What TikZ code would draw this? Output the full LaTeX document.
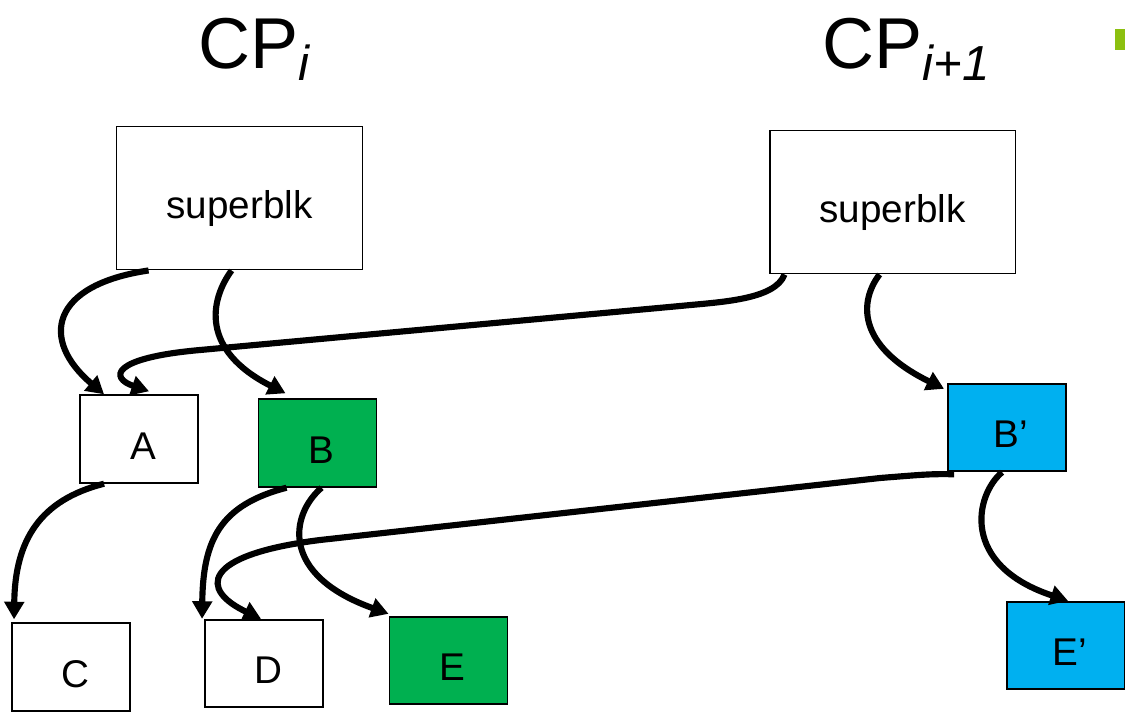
\documentclass[tikz,border=0pt]{standalone}
\usepackage{fontspec}
\setmainfont{Liberation Sans}
\usetikzlibrary{arrows.meta,calc}
\definecolor{boxgreen}{RGB}{0,176,80}
\definecolor{boxblue}{RGB}{0,176,240}
\definecolor{limegreen}{RGB}{140,192,16}
\begin{document}
\begin{tikzpicture}[x=0.02cm,y=-0.02cm,
  boxbase/.style={draw=black,line width=1.1pt,inner sep=0pt,text height=23pt,text depth=0pt,font=\fontsize{22}{26}\selectfont},
  blk/.style={boxbase,minimum width=2.36cm,minimum height=1.75cm,execute at begin node=\hspace*{0.16cm}},
  sblk/.style={boxbase,minimum width=4.92cm,minimum height=2.86cm},
  arr/.style={line width=3.5pt,-{Triangle[length=10pt,width=11pt]}},
  ttl/.style={anchor=base west,inner sep=0pt,font=\fontsize{41}{46}\selectfont}]
\useasboundingbox (0,0) rectangle (1125,711);
\fill[white] (0,0) rectangle (1125,711);
\fill[limegreen] (1115,29) rectangle (1125,50);
\node[ttl] (t1) at (198,68) {CP\raisebox{-0.32ex}{\fontsize{28}{30}\selectfont\itshape i}};
\node[ttl] (t2) at (822,68) {CP\raisebox{-0.32ex}{\fontsize{28}{30}\selectfont\itshape i+1}};
\node[sblk] (sbL) at (239.5,198) {superblk};
\node[sblk] (sbR) at (892.5,202) {superblk};
\node[blk] (A) at (139,439) {A};
\node[blk,fill=boxgreen] (B) at (317.5,443) {B};
\node[blk,fill=boxblue] (Bp) at (1007,427.5) {B’};
\node[blk] (C) at (71,667) {C};
\node[blk] (D) at (264,663.5) {D};
\node[blk,fill=boxgreen] (E) at (448.5,660.5) {E};
\node[blk,fill=boxblue] (Ep) at (1066,645.5) {E’};
% arrows
\draw[arr] ($(sbL.south west)+(33,0)$) .. controls (50,285) and (40,340) .. ($(A.north west)+(25,0)$);
\draw[arr] ($(sbL.south west)+(116,0)$) .. controls (210,300) and (200,350) .. ($(B.north west)+(28,-5)$);
\draw[arr] ($(sbR.south west)+(16,0)$) .. controls (775,300) and (720,302) .. (680,306) -- (200,350) .. controls (110,358) and (110,378) .. ($(A.north west)+(70,-3)$);
\draw[arr] ($(sbR.south west)+(111,0)$) .. controls (860,300) and (855,345) .. ($(Bp.north west)+(-3,6)$);
\draw[arr] ($(A.south west)+(25,0)$) .. controls (40,500) and (15,540) .. ($(C.north west)+(3,-3)$);
\draw[arr] ($(B.south west)+(29,0)$) .. controls (220,505) and (203,540) .. ($(D.north west)+(-2,0)$);
\draw[arr] ($(B.south west)+(64,0)$) .. controls (290,515) and (280,575) .. ($(E.north west)+(0,-2)$);
\draw[arr] ($(Bp.south west)+(7,2)$) .. controls (930,474) .. (880,478) -- (320,540) .. controls (200,555) and (200,590) .. ($(D.north west)+(57,0)$);
\draw[arr] ($(Bp.south west)+(55,0)$) .. controls (975,495) and (960,565) .. ($(Ep.north west)+(62,0)$);
\end{tikzpicture}
\end{document}
